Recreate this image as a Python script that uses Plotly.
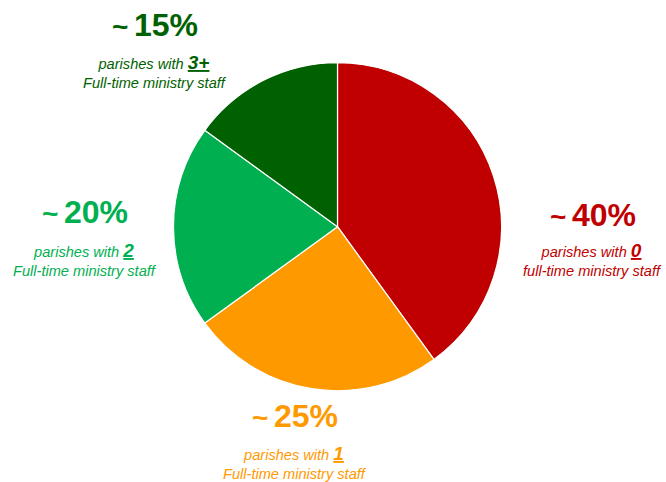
import plotly.graph_objects as go

# ---- data ----
categories = ["0 staff", "1 staff", "2 staff", "3+ staff"]
shares = [40, 25, 20, 15]
pct_labels = ["40%", "25%", "20%", "15%"]
count_labels = ["0", "1", "2", "3+"]
second_lines = ["full-time ministry staff", "Full-time ministry staff",
                "Full-time ministry staff", "Full-time ministry staff"]
colors = ["#C00000", "#FF9900", "#00B050", "#006100"]

W, H = 666, 482
FONT = "Liberation Sans, Arial, sans-serif"

def px(x):
    return x / W

def py(y):
    return 1 - y / H

# pie geometry (pixels)
cx, cy, r = 337.5, 226.7, 164

fig = go.Figure(go.Pie(
    labels=categories,
    values=shares,
    sort=False,
    direction="clockwise",
    rotation=0,
    marker=dict(colors=colors, line=dict(color="white", width=1.2)),
    textinfo="none",
    hoverinfo="label+percent",
    showlegend=False,
    domain=dict(x=[px(cx - r), px(cx + r)], y=[py(cy + r), py(cy - r)]),
))

# label positions (pixels): percent centre, sub-label centre
pct_pos = [(593, 215), (295, 416), (85, 212), (155, 25)]
sub_pos = [(592, 259), (295, 462), (85, 259), (155, 71)]

annotations = []
for i in range(len(categories)):
    annotations.append(dict(
        x=px(pct_pos[i][0]), y=py(pct_pos[i][1]), xref="paper", yref="paper",
        xanchor="center", yanchor="middle", showarrow=False,
        text="<b><span style='font-size:28px'>~\u2009</span>" + pct_labels[i] + "</b>",
        font=dict(family=FONT, size=32, color=colors[i]),
    ))
    annotations.append(dict(
        x=px(sub_pos[i][0]), y=py(sub_pos[i][1]), xref="paper", yref="paper",
        xanchor="center", yanchor="middle", showarrow=False, align="center",
        text=("<i>parishes with </i><span style='font-size:19px'><b><i><u>"
              + count_labels[i] + "</u></i></b></span><br><i>" + second_lines[i] + "</i>"),
        font=dict(family=FONT, size=14.6, color=colors[i]),
    ))

fig.update_layout(
    width=W, height=H,
    margin=dict(l=0, r=0, t=0, b=0),
    paper_bgcolor="white",
    plot_bgcolor="white",
    annotations=annotations,
)

fig.write_html("out.html")
